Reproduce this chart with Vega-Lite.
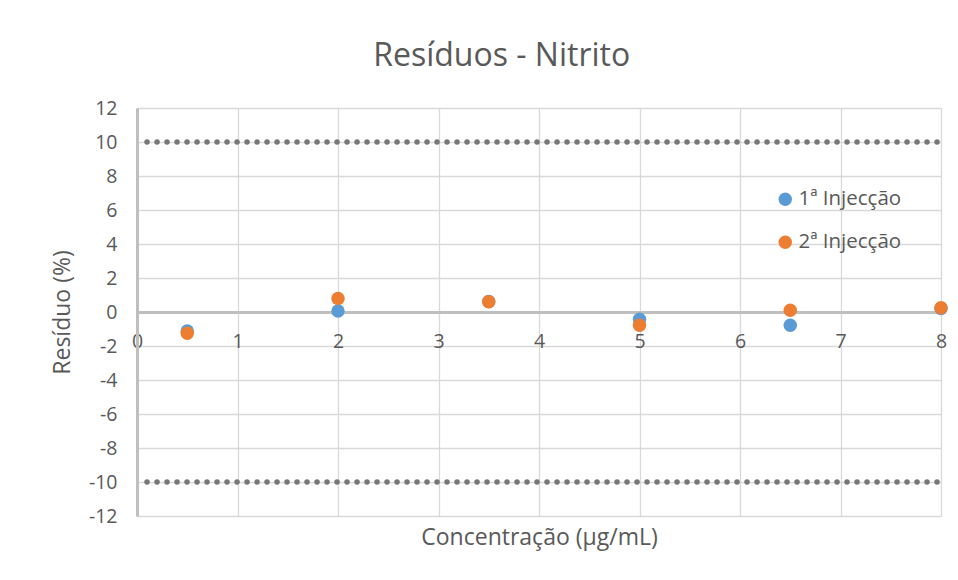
{
  "$schema": "https://vega.github.io/schema/vega-lite/v6.json",
  "width": 804,
  "height": 408,
  "autosize": {"type": "none"},
  "padding": {"left": 137, "top": 108, "right": 17, "bottom": 64},
  "background": "white",
  "config": {
    "font": "Open Sans",
    "view": {"stroke": null},
    "axis": {"labelColor": "#595959", "titleColor": "#595959", "titleFontWeight": "normal", "labelFont": "Open Sans", "titleFont": "Open Sans"}
  },
  "title": {
    "text": "Resíduos - Nitrito",
    "fontSize": 32,
    "font": "Open Sans",
    "fontWeight": "normal",
    "color": "#595959",
    "anchor": "middle",
    "frame": "bounds",
    "offset": 25
  },
  "datasets": {
    "pts": [
      {"conc": 0.5, "res": -1.12, "serie": "1ª Injecção"},
      {"conc": 2, "res": 0.06, "serie": "1ª Injecção"},
      {"conc": 3.5, "res": 0.62, "serie": "1ª Injecção"},
      {"conc": 5, "res": -0.43, "serie": "1ª Injecção"},
      {"conc": 6.5, "res": -0.78, "serie": "1ª Injecção"},
      {"conc": 8, "res": 0.2, "serie": "1ª Injecção"},
      {"conc": 0.5, "res": -1.25, "serie": "2ª Injecção"},
      {"conc": 2, "res": 0.8, "serie": "2ª Injecção"},
      {"conc": 3.5, "res": 0.6, "serie": "2ª Injecção"},
      {"conc": 5, "res": -0.78, "serie": "2ª Injecção"},
      {"conc": 6.5, "res": 0.1, "serie": "2ª Injecção"},
      {"conc": 8, "res": 0.25, "serie": "2ª Injecção"}
    ],
    "lims": [
      {"conc": 0.1, "res": 10, "lim": "sup"},
      {"conc": 8, "res": 10, "lim": "sup"},
      {"conc": 0.1, "res": -10, "lim": "inf"},
      {"conc": 8, "res": -10, "lim": "inf"}
    ]
  },
  "encoding": {
    "x": {"field": "conc", "type": "quantitative", "scale": {"domain": [0, 8], "nice": false, "zero": false},
      "axis": {
        "title": "Concentração (µg/mL)",
        "titleFontSize": 23,
        "titleBaseline": "top",
        "titleY": 214,
        "values": [0, 1, 2, 3, 4, 5, 6, 7, 8],
        "labelExpr": "'' + datum.value",
        "labelFontSize": 19.5,
        "labelPadding": 20,
        "tickSize": 0,
        "ticks": false,
        "offset": -204,
        "domainColor": "#bfbfbf",
        "domainWidth": 3,
        "grid": true,
        "gridColor": "#d9d9d9",
        "gridWidth": 1.3,
        "labelFlush": false,
        "labelOverlap": false
      }},
    "y": {"field": "res", "type": "quantitative", "scale": {"domain": [-12, 12], "nice": false, "zero": false},
      "axis": {
        "title": "Resíduo (%)",
        "titleFontSize": 23,
        "titlePadding": 14,
        "values": [-12, -10, -8, -6, -4, -2, 0, 2, 4, 6, 8, 10, 12],
        "labelExpr": "'' + datum.value",
        "labelFontSize": 19.5,
        "labelPadding": 20,
        "tickSize": 0,
        "ticks": false,
        "domainColor": "#bfbfbf",
        "domainWidth": 3,
        "grid": true,
        "gridColor": "#d9d9d9",
        "gridWidth": 1.3,
        "labelFlush": false,
        "labelOverlap": false
      }}
  },
  "layer": [
    {
      "data": {"name": "lims"},
      "mark": {"type": "line", "color": "#777777", "strokeWidth": 5.5, "strokeCap": "round", "strokeDash": [0, 10]},
      "encoding": {
        "detail": {"field": "lim"}
      }
    },
    {
      "data": {"name": "pts"},
      "mark": {"type": "circle", "size": 180, "opacity": 1},
      "encoding": {
        "color": {"field": "serie", "type": "nominal",
          "scale": {"domain": ["1ª Injecção", "2ª Injecção"], "range": ["#5b9bd5", "#ed7d31"]},
          "legend": {
            "title": null,
            "orient": "none",
            "legendX": 638,
            "legendY": 81,
            "padding": 0,
            "symbolType": "circle",
            "symbolSize": 180,
            "symbolOpacity": 1,
            "labelFontSize": 20.5,
            "labelFont": "Open Sans",
            "labelColor": "#595959",
            "labelOffset": 3,
            "rowPadding": 22
          }},
        "order": {"field": "serie"}
      }
    }
  ]
}
